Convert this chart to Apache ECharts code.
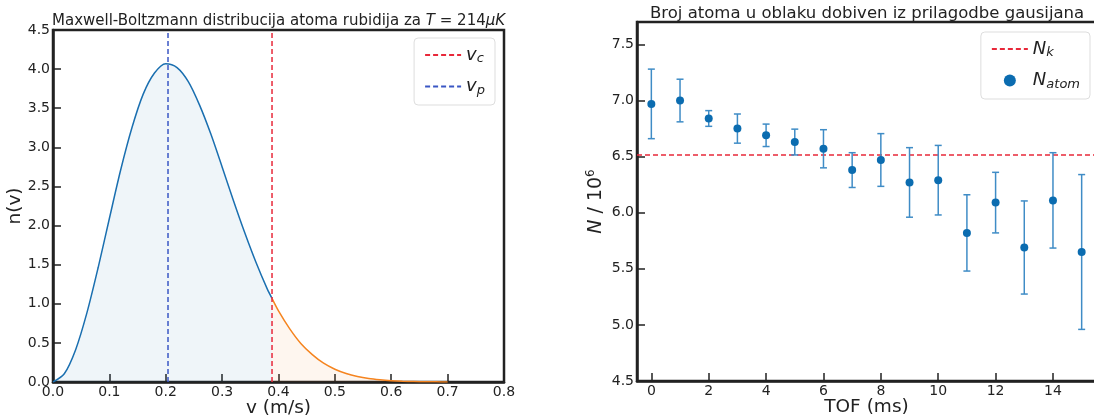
<!DOCTYPE html>
<html>
<head>
<meta charset="utf-8">
<script src="https://cdn.jsdelivr.net/npm/echarts@6/dist/echarts.min.js"></script>
<style>
  html, body { margin: 0; padding: 0; background: #fff; }
  #chart { width: 1094px; height: 418px; }
</style>
</head>
<body>
<div id="chart"></div>
<script>
// lijevi graf: n(v) ocitano sa slike
const vBlue = [0, 0.02, 0.04, 0.06, 0.08, 0.10, 0.12, 0.14, 0.16, 0.18, 0.20, 0.22, 0.24, 0.26, 0.28, 0.30, 0.32, 0.34, 0.36, 0.38, 0.3885];
const nBlue = [0, 0.105, 0.41, 0.88, 1.46, 2.09, 2.71, 3.25, 3.68, 3.95, 4.07, 4.02, 3.84, 3.54, 3.17, 2.75, 2.32, 1.91, 1.53, 1.19, 1.07];
const vOrange = [0.3885, 0.40, 0.42, 0.44, 0.46, 0.48, 0.50, 0.52, 0.54, 0.56, 0.58, 0.60, 0.62, 0.64, 0.66, 0.68, 0.70];
const nOrange = [1.07, 0.91, 0.68, 0.49, 0.35, 0.24, 0.163, 0.108, 0.070, 0.044, 0.028, 0.017, 0.010, 0.006, 0.003, 0.002, 0.001];
const vc = 0.3885;
const vp = 0.204;

// desni graf: broj atoma
const tof = [0, 1, 2, 3, 4, 5, 6, 7, 8, 9, 10, 11, 12, 13, 14, 15];
const nAtom = [6.97, 7.00, 6.84, 6.75, 6.69, 6.63, 6.57, 6.38, 6.47, 6.27, 6.29, 5.82, 6.09, 5.69, 6.11, 5.65];
const nErr = [0.31, 0.19, 0.07, 0.13, 0.10, 0.115, 0.17, 0.155, 0.235, 0.31, 0.31, 0.34, 0.27, 0.415, 0.425, 0.69];
const nK = 6.515;
const tofTicks = [0, 2, 4, 6, 8, 10, 12, 14];
const nTicks = [4.5, 5.0, 5.5, 6.0, 6.5, 7.0, 7.5];

const FONT = "DejaVu Sans";
const BLUE = "#1a6fb0";
const ORANGE = "#f5841f";
const RED = "#e8283a";
const DBLUE = "#3a56c4";

const chart = echarts.init(document.getElementById("chart"));

const pairs = (xs, ys) => xs.map((x, i) => [x, ys[i]]);

function tick() {
  return { show: true, inside: true, length: 8, lineStyle: { color: "#222", width: 1.5 } };
}
function label(extra) {
  return Object.assign({ color: "#222", fontFamily: FONT, fontSize: 14, margin: 3 }, extra || {});
}
const axLine = { show: true, onZero: false, lineStyle: { color: "#222", width: 2.5 } };
const nameStyle = { color: "#222", fontFamily: FONT, fontSize: 18.5 };

const italic = { fontFamily: FONT, fontStyle: "italic", fontSize: 18, color: "#222" };
const sub = { fontFamily: FONT, fontStyle: "italic", fontSize: 13, color: "#222", verticalAlign: "bottom", padding: [8, 0, 0, 0] };
const noDot = { opacity: 0 };

const legendFmt = (name) => {
  const p = name.split("_");
  return "{i|" + p[0] + "}{s|" + p[1] + "}";
};

let option = {
  animation: false,
  title: [
    {
      text: "Maxwell-Boltzmann distribucija atoma rubidija za {i|T} = 214{i|μK}",
      left: 47, top: 9,
      textStyle: {
        fontFamily: FONT, fontSize: 15, fontWeight: "normal", color: "#222",
        rich: { i: { fontFamily: FONT, fontStyle: "italic", fontSize: 15, color: "#222" } },
      },
    },
    {
      text: "Broj atoma u oblaku dobiven iz prilagodbe gausijana",
      left: 645, top: 0,
      textStyle: { fontFamily: FONT, fontSize: 16.5, fontWeight: "normal", color: "#222" },
    },
  ],
  grid: [
    { left: 53, right: 590, top: 30, bottom: 36, outerBoundsMode: "none", show: true, borderColor: "#222", borderWidth: 2.5 },
    { left: 637, right: -2, top: 22, bottom: 37, outerBoundsMode: "none", show: true, borderColor: "#222", borderWidth: 2.5 },
  ],
  legend: [
    {
      data: [{ name: "v_c", itemStyle: noDot }, { name: "v_p", itemStyle: noDot }],
      right: 599, top: 38,
      orient: "vertical",
      itemWidth: 36, itemHeight: 12, itemGap: 12,
      padding: [8, 10, 8, 10],
      backgroundColor: "#fff", borderColor: "#ddd", borderWidth: 1, borderRadius: 4,
      formatter: legendFmt,
      textStyle: { rich: { i: italic, s: sub } },
    },
    {
      data: [{ name: "N_k", itemStyle: noDot }, { name: "N_atom", icon: "circle" }],
      right: 4, top: 32,
      orient: "vertical",
      itemWidth: 36, itemHeight: 12, itemGap: 12,
      padding: [8, 10, 8, 10],
      backgroundColor: "#fff", borderColor: "#ddd", borderWidth: 1, borderRadius: 4,
      formatter: legendFmt,
      textStyle: { rich: { i: italic, s: sub } },
    },
  ],
  xAxis: [
    {
      type: "value", gridIndex: 0, min: 0, max: 0.8, interval: 0.1,
      name: "v (m/s)", nameLocation: "middle", nameGap: 17, nameMoveOverlap: false, nameTextStyle: nameStyle,
      axisLine: axLine, axisTick: tick(), splitLine: { show: false },
      axisLabel: label({ formatter: (v) => v.toFixed(1) }),
    },
    {
      type: "value", gridIndex: 1, min: -0.5, max: 15.5,
      name: "TOF (ms)", nameLocation: "middle", nameGap: 17, nameMoveOverlap: false, nameTextStyle: nameStyle,
      axisLine: axLine, axisTick: Object.assign(tick(), { customValues: tofTicks }), splitLine: { show: false },
      axisLabel: label({ customValues: tofTicks }),
    },
  ],
  yAxis: [
    {
      type: "value", gridIndex: 0, min: 0, max: 4.5, interval: 0.5,
      name: "n(v)", nameLocation: "middle", nameGap: 28, nameMoveOverlap: false, nameTextStyle: nameStyle,
      axisLine: axLine, axisTick: tick(), splitLine: { show: false },
      axisLabel: label({ formatter: (v) => v.toFixed(1) }),
    },
    {
      type: "value", gridIndex: 1, min: 4.5, max: 7.7,
      name: "{i|N}{n| / 10}{p|6}", nameLocation: "middle", nameGap: 30, nameMoveOverlap: false,
      nameTextStyle: {
        rich: {
          i: { fontFamily: FONT, fontStyle: "italic", fontSize: 19, color: "#222" },
          n: { fontFamily: FONT, fontSize: 19, color: "#222" },
          p: { fontFamily: FONT, fontSize: 12, color: "#222", verticalAlign: "top", padding: [0, 0, 10, 0] },
        },
      },
      axisLine: axLine, axisTick: Object.assign(tick(), { customValues: nTicks }), splitLine: { show: false },
      axisLabel: label({ customValues: nTicks, formatter: (v) => v.toFixed(1) }),
    },
  ],
  series: [
    {
      name: "n_blue", type: "line", xAxisIndex: 0, yAxisIndex: 0,
      data: pairs(vBlue, nBlue), smooth: 0.3, symbol: "none",
      lineStyle: { color: BLUE, width: 1.5 },
      areaStyle: { color: "rgba(26,111,176,0.1)" },
      z: 2,
    },
    {
      name: "n_orange", type: "line", xAxisIndex: 0, yAxisIndex: 0,
      data: pairs(vOrange, nOrange), smooth: 0.3, symbol: "none",
      lineStyle: { color: ORANGE, width: 1.5 },
      areaStyle: { color: "rgba(245,132,31,0.1)" },
      z: 2,
    },
    {
      name: "v_c", type: "line", xAxisIndex: 0, yAxisIndex: 0,
      data: [[vc, 0], [vc, 4.5]], symbol: "none",
      itemStyle: { color: RED },
      lineStyle: { color: RED, width: 1.5, type: [5, 3] },
      z: 3,
    },
    {
      name: "v_p", type: "line", xAxisIndex: 0, yAxisIndex: 0,
      data: [[vp, 0], [vp, 4.5]], symbol: "none",
      itemStyle: { color: DBLUE },
      lineStyle: { color: DBLUE, width: 1.5, type: [5, 3] },
      z: 3,
    },
    {
      name: "N_k", type: "line", xAxisIndex: 1, yAxisIndex: 1,
      data: [[-0.5, nK], [15.5, nK]], symbol: "none",
      itemStyle: { color: RED },
      lineStyle: { color: RED, width: 1.5, type: [5, 3] },
      z: 2,
    },
    {
      name: "errbars", type: "custom", xAxisIndex: 1, yAxisIndex: 1,
      data: tof.map((t, i) => [t, nAtom[i] - nErr[i], nAtom[i] + nErr[i]]),
      renderItem: (params, api) => {
        const lo = api.coord([api.value(0), api.value(1)]);
        const hi = api.coord([api.value(0), api.value(2)]);
        const w = 3.5;
        const style = { stroke: "#3f8cc6", lineWidth: 1.5 };
        return {
          type: "group",
          children: [
            { type: "line", shape: { x1: lo[0], y1: lo[1], x2: hi[0], y2: hi[1] }, style },
            { type: "line", shape: { x1: lo[0] - w, y1: lo[1], x2: lo[0] + w, y2: lo[1] }, style },
            { type: "line", shape: { x1: hi[0] - w, y1: hi[1], x2: hi[0] + w, y2: hi[1] }, style },
          ],
        };
      },
      z: 3,
    },
    {
      name: "N_atom", type: "scatter", xAxisIndex: 1, yAxisIndex: 1,
      data: pairs(tof, nAtom), symbolSize: 8,
      itemStyle: { color: "#0b6cb0", opacity: 1 },
      z: 4,
    },
  ],
};

chart.setOption(option);
</script>
</body>
</html>
